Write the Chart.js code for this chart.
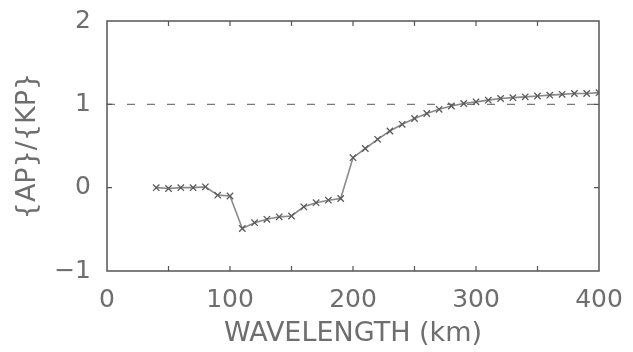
<!DOCTYPE html>
<html>
<head>
<meta charset="utf-8">
<script src="https://cdn.jsdelivr.net/npm/chart.js@4"></script>
<style>
  html, body { margin: 0; padding: 0; background: #fff; }
  #wrap { width: 633px; height: 352px; }
</style>
</head>
<body>
<div id="wrap"><canvas id="chart" width="633" height="352"></canvas></div>
<script>
// wavelength (km) and ratio {AP}/{KP}
const wavelength = [40, 50, 60, 70, 80, 90, 100, 110, 120, 130, 140, 150, 160, 170, 180, 190,
    200, 210, 220, 230, 240, 250, 260, 270, 280, 290, 300, 310, 320, 330, 340, 350, 360, 370, 380, 390, 400]
const ratio = [0, -0.01, 0, 0, 0.01, -0.09, -0.1, -0.49, -0.42, -0.38, -0.35, -0.34, -0.23, -0.18, -0.15, -0.13,
    0.36, 0.47, 0.58, 0.68, 0.76, 0.83, 0.89, 0.94, 0.98, 1.01, 1.03, 1.05, 1.07, 1.08, 1.09, 1.10, 1.11, 1.12, 1.13, 1.13, 1.14]
const refX = [0, 400]
const refY = [1, 1]
const xTicks = [0, 100, 200, 300, 400]
const yTicks = [-1, 0, 1, 2]
const xMinorTicks = [50, 100, 150, 200, 250, 300, 350]
const yMinorTicks = [0, 1]

const textColor = '#6e6e6e'

// box frame with inward tick marks
const framePlugin = {
    id: 'frame',
    afterDatasetsDraw(chart) {
        const { ctx, chartArea: a, scales } = chart
        ctx.save()
        ctx.strokeStyle = '#555'
        ctx.lineWidth = 1.5
        ctx.strokeRect(a.left, a.top, a.right - a.left, a.bottom - a.top)
        ctx.lineWidth = 1.2
        ctx.beginPath()
        xMinorTicks.forEach(v => {
            const x = scales.x.getPixelForValue(v)
            ctx.moveTo(x, a.bottom); ctx.lineTo(x, a.bottom - 5)
            ctx.moveTo(x, a.top); ctx.lineTo(x, a.top + 5)
        })
        yMinorTicks.forEach(v => {
            const y = scales.y.getPixelForValue(v)
            ctx.moveTo(a.left, y); ctx.lineTo(a.left + 5, y)
            ctx.moveTo(a.right, y); ctx.lineTo(a.right - 5, y)
        })
        ctx.stroke()
        ctx.restore()
    }
}

new Chart(document.getElementById('chart'), {
    type: 'line',
    data: {
        datasets: [
            {
                label: 'ratio',
                data: wavelength.map((w, i) => ({ x: w, y: ratio[i] })),
                borderColor: '#8a8a8a',
                borderWidth: 1.6,
                pointStyle: 'crossRot',
                pointRadius: 4.5,
                pointBorderColor: '#5a5a5a',
                pointBorderWidth: 1.3,
                tension: 0,
            },
            {
                label: 'reference',
                data: refX.map((w, i) => ({ x: w, y: refY[i] })),
                borderColor: '#7a7a7a',
                borderWidth: 1.3,
                borderDash: [8, 12],
                pointRadius: 0,
            },
        ],
    },
    options: {
        responsive: false,
        animation: false,
        layout: { padding: { top: 21, right: 34, left: 0, bottom: 0 } },
        plugins: { legend: { display: false }, tooltip: { enabled: false } },
        scales: {
            x: {
                type: 'linear',
                min: 0,
                max: 400,
                afterBuildTicks: s => { s.ticks = xTicks.map(v => ({ value: v })) },
                afterFit: s => {
                    s.height = 81
                    s.paddingLeft = 0
                    s.paddingRight = 0
                },
                grid: { display: false, drawTicks: false },
                border: { display: false },
                ticks: {
                    color: textColor,
                    font: { family: 'DejaVu Sans', size: 25 },
                    padding: 14,
                    maxRotation: 0,
                },
                title: {
                    display: true,
                    text: 'WAVELENGTH (km)',
                    color: textColor,
                    font: { family: 'DejaVu Sans', size: 27 },
                    padding: { top: 0, bottom: 2 },
                },
            },
            y: {
                min: -1,
                max: 2,
                afterBuildTicks: s => { s.ticks = yTicks.map(v => ({ value: v })) },
                afterFit: s => {
                    s.width = 107
                    s.paddingTop = 0
                    s.paddingBottom = 0
                },
                grid: { display: false, drawTicks: false },
                border: { display: false },
                ticks: {
                    color: textColor,
                    font: { family: 'DejaVu Sans', size: 25 },
                    padding: 16,
                    callback: v => (v < 0 ? '\u2212' + Math.abs(v) : String(v)),
                },
                title: {
                    display: true,
                    text: '{AP}/{KP}',
                    color: textColor,
                    font: { family: 'DejaVu Sans', size: 27 },
                    padding: { top: 12, bottom: 0 },
                },
            },
        },
    },
    plugins: [framePlugin],
})
</script>
</body>
</html>
